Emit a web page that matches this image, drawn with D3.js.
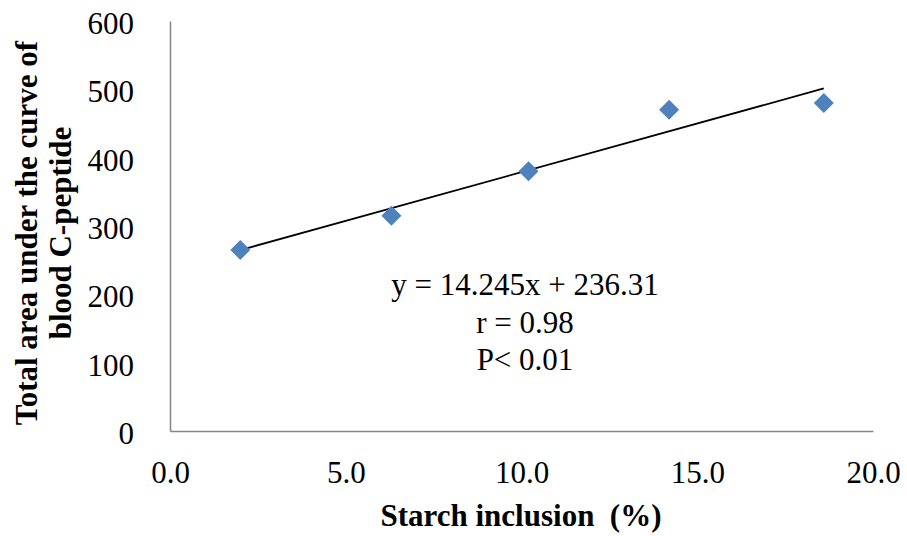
<!DOCTYPE html>
<html>
<head>
<meta charset="utf-8">
<script src="https://cdn.jsdelivr.net/npm/d3@7"></script>
<style>
  html, body { margin: 0; padding: 0; background: #fff; }
  svg { display: block; }
  text { font-family: "Liberation Serif", "Times New Roman", serif; fill: #000; }
</style>
</head>
<body>
<svg id="chart" width="907" height="536"></svg>
<script>
// Starch inclusion (%) and total area under the C-peptide curve
const starch = [2.0, 6.3, 10.2, 14.2, 18.6];
const cPeptideAUC = [265, 315, 380, 470, 480];

// Fitted regression line: y = slope * x + intercept
const slope = 14.245;
const intercept = 236.31;

const xTicks = [0, 5, 10, 15, 20];
const yTicks = [0, 100, 200, 300, 400, 500, 600];
const statLines = ["y = 14.245x + 236.31", "r = 0.98", "P< 0.01"];

const svg = d3.select("#chart");
const margin = { left: 170, right: 34, top: 21, bottom: 105 };
const W = 907, H = 536;
const fontSize = "31px";

const x = d3.scaleLinear().domain([0, 20]).range([margin.left, W - margin.right]);
const y = d3.scaleLinear().domain([0, 600]).range([H - margin.bottom, margin.top]);

const axisColor = "#868686";

// Y axis (no tick marks, labels only)
const yAxis = svg.append("g")
  .attr("transform", `translate(${margin.left},0)`)
  .call(d3.axisLeft(y).tickValues(yTicks).tickSize(0).tickPadding(36).tickFormat(d3.format("d")));
yAxis.select(".domain").attr("stroke", axisColor).attr("stroke-width", 1.5);
yAxis.selectAll("text")
  .attr("font-size", fontSize)
  .attr("font-family", "Liberation Serif")
  .attr("dy", "0.4em");

// X axis
const xAxis = svg.append("g")
  .attr("transform", `translate(0,${y(0)})`)
  .call(d3.axisBottom(x).tickValues(xTicks).tickSize(0).tickFormat(d3.format(".1f")));
xAxis.select(".domain").attr("stroke", axisColor).attr("stroke-width", 1.5);
xAxis.selectAll("text")
  .attr("font-size", fontSize)
  .attr("font-family", "Liberation Serif")
  .attr("y", 52)
  .attr("dy", 0);

// Trend line across the data range
const xMin = d3.min(starch), xMax = d3.max(starch);
svg.append("line")
  .attr("x1", x(xMin)).attr("y1", y(slope * xMin + intercept))
  .attr("x2", x(xMax)).attr("y2", y(slope * xMax + intercept))
  .attr("stroke", "#000").attr("stroke-width", 1.8);

// Diamond markers
const diamond = d3.symbol().type(d3.symbolSquare).size(200);
svg.append("g").selectAll("path")
  .data(starch.map((v, i) => [v, cPeptideAUC[i]]))
  .join("path")
  .attr("d", diamond)
  .attr("transform", d => `translate(${x(d[0])},${y(d[1])}) rotate(45)`)
  .attr("fill", "#4F81BD");

// Regression statistics
svg.append("g").selectAll("text")
  .data(statLines)
  .join("text")
  .attr("x", 525)
  .attr("y", (d, i) => 295 + i * 37.5)
  .attr("text-anchor", "middle")
  .attr("font-size", fontSize)
  .text(d => d);

// X axis title
svg.append("text")
  .attr("x", 521)
  .attr("y", 526)
  .attr("text-anchor", "middle")
  .attr("font-size", fontSize)
  .attr("font-weight", "bold")
  .text("Starch inclusion\u00A0 (%)");

// Y axis title, two lines
const yTitle = svg.append("text")
  .attr("transform", "translate(0,233) rotate(-90)")
  .attr("text-anchor", "middle")
  .attr("font-size", fontSize)
  .attr("font-weight", "bold");
yTitle.append("tspan").attr("x", 0).attr("y", 37).text("Total area under the curve of");
yTitle.append("tspan").attr("x", 0).attr("y", 71).text("blood C-peptide");
</script>
</body>
</html>
